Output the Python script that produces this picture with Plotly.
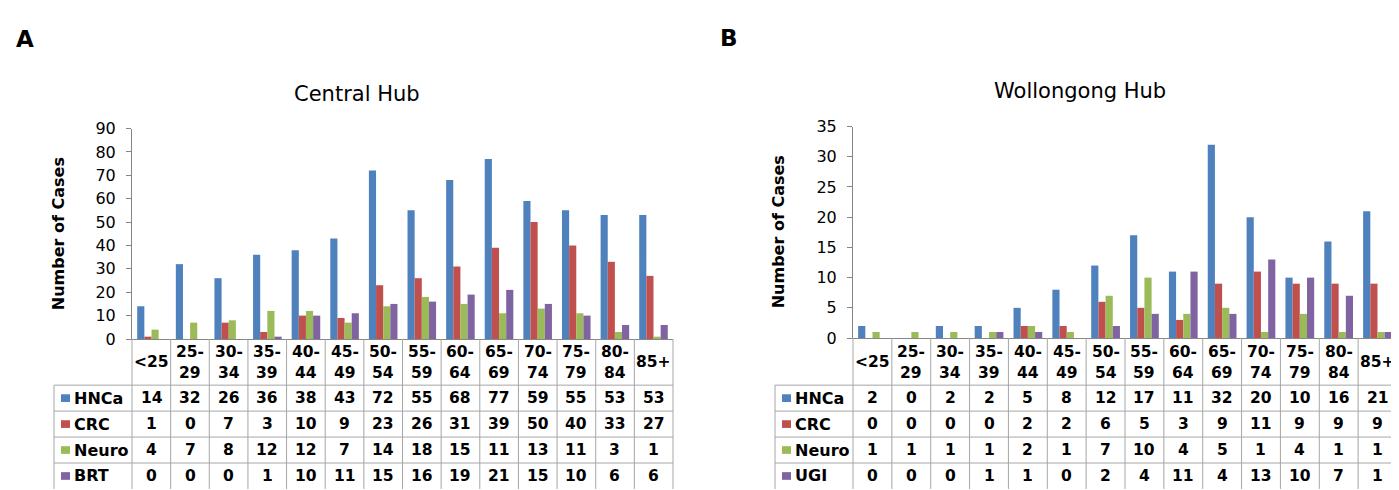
import plotly.graph_objects as go

W, H = 1399, 490

age_groups = ["<25", "25-29", "30-34", "35-39", "40-44", "45-49", "50-54",
              "55-59", "60-64", "65-69", "70-74", "75-79", "80-84", "85+"]

# Central Hub (A)
central_series = ["HNCa", "CRC", "Neuro", "BRT"]
central_hnca = [14, 32, 26, 36, 38, 43, 72, 55, 68, 77, 59, 55, 53, 53]
central_crc = [1, 0, 7, 3, 10, 9, 23, 26, 31, 39, 50, 40, 33, 27]
central_neuro = [4, 7, 8, 12, 12, 7, 14, 18, 15, 11, 13, 11, 3, 1]
central_brt = [0, 0, 0, 1, 10, 11, 15, 16, 19, 21, 15, 10, 6, 6]

# Wollongong Hub (B)
woll_series = ["HNCa", "CRC", "Neuro", "UGI"]
woll_hnca = [2, 0, 2, 2, 5, 8, 12, 17, 11, 32, 20, 10, 16, 21]
woll_crc = [0, 0, 0, 0, 2, 2, 6, 5, 3, 9, 11, 9, 9, 9]
woll_neuro = [1, 1, 1, 1, 2, 1, 7, 10, 4, 5, 1, 4, 1, 1]
woll_ugi = [0, 0, 0, 1, 1, 0, 2, 4, 11, 4, 13, 10, 7, 1]

colors = ["#4F81BD", "#C0504D", "#9BBB59", "#8064A2"]
FONT = "DejaVu Sans"
GRID = "#A6A6A6"
AXIS = "#868686"


def px(x):
    return x / W


def py(y):
    return 1 - y / H


panels = [
    dict(letter="A", title="Central Hub", names=central_series,
         data=[central_hnca, central_crc, central_neuro, central_brt],
         ymax=90, dtick=10, x0=124, x1=665, yzero=335, ytop=116, legL=46,
         title_pos=(349, 80), ylab_pos=(50, 226), letter_pos=(17, 23),
         xa="x", ya="y"),
    dict(letter="B", title="Wollongong Hub", names=woll_series,
         data=[woll_hnca, woll_crc, woll_neuro, woll_ugi],
         ymax=35, dtick=5, x0=845, x1=1389, yzero=334, ytop=114, legL=767,
         title_pos=(1072, 77), ylab_pos=(770, 224), letter_pos=(721, 22),
         xa="x2", ya="y2"),
]

header_bottom = 383
row_edges = [383, 410, 437, 464, 491]

fig = go.Figure()
shapes = []
annotations = []
layout_axes = {}

for p in panels:
    for i, (name, vals) in enumerate(zip(p["names"], p["data"])):
        fig.add_trace(go.Bar(
            x=age_groups, y=vals, name=name, xaxis=p["xa"], yaxis=p["ya"],
            marker=dict(color=colors[i], line=dict(width=0)),
            showlegend=False,
        ))
    xkey = "xaxis" if p["xa"] == "x" else "xaxis2"
    ykey = "yaxis" if p["ya"] == "y" else "yaxis2"
    layout_axes[xkey] = dict(
        domain=[px(p["x0"]), px(p["x1"])], anchor=p["ya"],
        type="category", categoryorder="array", categoryarray=age_groups,
        showticklabels=False, ticks="", showgrid=False, zeroline=False,
        showline=True, linecolor=AXIS, linewidth=1,
    )
    layout_axes[ykey] = dict(
        domain=[py(p["yzero"]), py(p["ytop"])], anchor=p["xa"],
        range=[0, p["ymax"]], dtick=p["dtick"], tick0=0,
        showgrid=False, zeroline=False, showline=True, linecolor=AXIS,
        linewidth=1, ticks="outside", ticklen=5, tickcolor=AXIS,
        tickfont=dict(family=FONT, size=16, color="#000"),
        ticklabelstandoff=7,
    )

    # table grid
    n = len(age_groups)
    colw = (p["x1"] - p["x0"]) / n
    for k in range(n + 1):
        xx = p["x0"] + k * colw
        shapes.append(dict(type="line", xref="paper", yref="paper",
                           x0=px(xx), x1=px(xx), y0=py(p["yzero"]), y1=py(row_edges[-1]),
                           line=dict(color=GRID, width=1)))
    shapes.append(dict(type="line", xref="paper", yref="paper",
                       x0=px(p["legL"]), x1=px(p["legL"]), y0=py(header_bottom), y1=py(row_edges[-1]),
                       line=dict(color=GRID, width=1)))
    for ye in row_edges[:-1]:
        shapes.append(dict(type="line", xref="paper", yref="paper",
                           x0=px(p["legL"]), x1=px(p["x1"]), y0=py(ye), y1=py(ye),
                           line=dict(color=GRID, width=1)))

    # header labels
    for g in age_groups:
        if "-" in g:
            a, b = g.split("-")
            parts = [(a + "-", 348), (b, 370)]
        else:
            parts = [(g.replace("<", "&lt;"), 359)]
        for txt, yy in parts:
            annotations.append(dict(
                x=g, xref=p["xa"], y=py(yy), yref="paper", text="<b>" + txt + "</b>",
                showarrow=False, xanchor="center", yanchor="middle",
                font=dict(family=FONT, size=15.5, color="#000")))

    # rows
    for r, (name, vals) in enumerate(zip(p["names"], p["data"])):
        yc = (row_edges[r] + row_edges[r + 1]) / 2
        shapes.append(dict(type="rect", xref="paper", yref="paper",
                           x0=px(p["legL"] + 7), x1=px(p["legL"] + 16),
                           y0=py(yc + 4), y1=py(yc - 4),
                           fillcolor=colors[r], line=dict(width=0)))
        annotations.append(dict(
            x=px(p["legL"] + 18), xref="paper", y=py(yc), yref="paper",
            text="<b>" + name + "</b>", showarrow=False, xanchor="left", yanchor="middle",
            font=dict(family=FONT, size=16, color="#000")))
        for g, v in zip(age_groups, vals):
            annotations.append(dict(
                x=g, xref=p["xa"], y=py(yc), yref="paper", text="<b>" + str(v) + "</b>",
                showarrow=False, xanchor="center", yanchor="middle",
                font=dict(family=FONT, size=15.5, color="#000")))

    # titles
    annotations.append(dict(
        x=px(p["title_pos"][0]), y=py(p["title_pos"][1]), xref="paper", yref="paper",
        text=p["title"], showarrow=False, xanchor="center", yanchor="middle",
        font=dict(family=FONT, size=21, color="#000")))
    annotations.append(dict(
        x=px(p["ylab_pos"][0]), y=py(p["ylab_pos"][1]), xref="paper", yref="paper",
        text="<b>Number of Cases</b>", showarrow=False, textangle=-90,
        xanchor="center", yanchor="middle",
        font=dict(family=FONT, size=16, color="#000")))
    annotations.append(dict(
        x=px(p["letter_pos"][0]), y=py(p["letter_pos"][1]), xref="paper", yref="paper",
        text="<b>" + p["letter"] + "</b>", showarrow=False,
        xanchor="center", yanchor="middle",
        font=dict(family=FONT, size=23, color="#000")))

fig.update_layout(
    width=W, height=H, margin=dict(l=0, r=0, t=0, b=0),
    paper_bgcolor="white", plot_bgcolor="white",
    barmode="group", bargap=0.26, bargroupgap=0.0,
    shapes=shapes, annotations=annotations,
    **layout_axes,
)

fig.write_html("out.html")
